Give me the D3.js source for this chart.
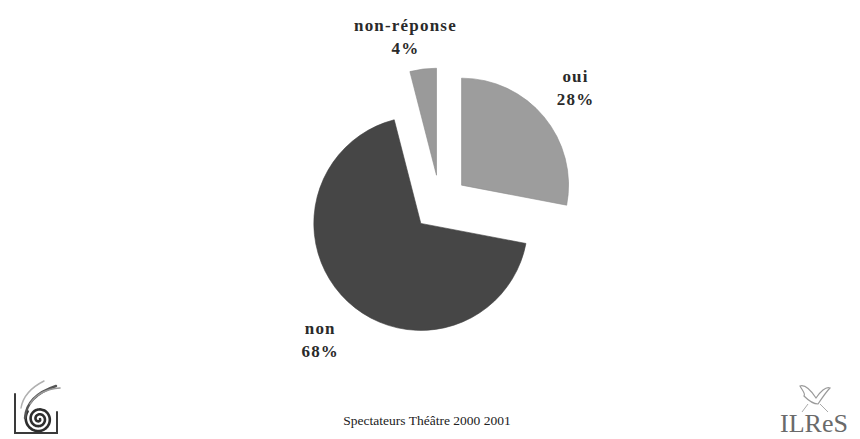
<!DOCTYPE html>
<html>
<head>
<meta charset="utf-8">
<script src="https://cdn.jsdelivr.net/npm/d3@7"></script>
<style>
  html, body { margin: 0; padding: 0; background: #fff; }
  svg { display: block; }
</style>
</head>
<body>
<svg id="chart" width="860" height="439"></svg>
<script>
// Survey answers (percent of spectators)
const categories = ["oui", "non", "non-réponse"];
const values = [28, 68, 4];
const footer = "Spectateurs Théâtre 2000 2001";

const W = 860, H = 439;
const cx = 440, cy = 203;
const radius = 107;
const explode = 28;
const labelRadius = 172;
const labelNudge = { "oui": [3, -11], "non": [-2, 6], "non-réponse": [-13, -1] };
const lineGap = 23;
const serif = "'Liberation Serif', 'Times New Roman', Times, serif";

const colour = d3.scaleOrdinal()
  .domain(categories)
  .range(["#9d9d9d", "#464646", "#9a9a9a"]);

const svg = d3.select("#chart");
svg.append("rect").attr("width", W).attr("height", H).attr("fill", "#fff");

const data = categories.map((c, i) => ({ name: c, value: values[i] }));
const pie = d3.pie().sort(null).value(d => d.value);
const arcs = pie(data);
const arc = d3.arc().innerRadius(0).outerRadius(radius);

const mid = a => (a.startAngle + a.endAngle) / 2;
const dir = a => [Math.sin(mid(a)), -Math.cos(mid(a))];

const g = svg.append("g").attr("transform", `translate(${cx},${cy})`);

// exploded slices
g.selectAll("path.slice")
  .data(arcs)
  .join("path")
  .attr("class", "slice")
  .attr("d", arc)
  .attr("fill", d => colour(d.data.name))
  .attr("stroke", d => d3.color(colour(d.data.name)).darker(0.3))
  .attr("stroke-width", 0.6)
  .attr("transform", d => {
    const [ux, uy] = dir(d);
    return `translate(${ux * explode},${uy * explode})`;
  });

// category + percentage labels
const labels = g.selectAll("g.label")
  .data(arcs)
  .join("g")
  .attr("class", "label")
  .attr("transform", d => {
    const [ux, uy] = dir(d);
    const [nx, ny] = labelNudge[d.data.name];
    return `translate(${ux * labelRadius + nx},${uy * labelRadius + ny})`;
  });

labels.append("text")
  .attr("text-anchor", "middle")
  .attr("font-family", serif)
  .attr("font-weight", "bold")
  .attr("font-size", 17)
  .attr("letter-spacing", 1.2)
  .attr("fill", "#2a2a2a")
  .text(d => d.data.name);

labels.append("text")
  .attr("y", lineGap)
  .attr("text-anchor", "middle")
  .attr("font-family", serif)
  .attr("font-weight", "bold")
  .attr("font-size", 17)
  .attr("letter-spacing", 1.2)
  .attr("fill", "#2a2a2a")
  .text(d => `${d.data.value}%`);

// footer caption
svg.append("text")
  .attr("x", 427)
  .attr("y", 425)
  .attr("text-anchor", "middle")
  .attr("font-family", serif)
  .attr("font-size", 13.5)
  .attr("fill", "#222")
  .text(footer);

// left emblem: frame with spiral and feathers
const emb = svg.append("g").attr("fill", "none").attr("stroke-linecap", "round");
emb.append("path").attr("d", "M15,394 L15,433 L57,433 L57,412")
  .attr("stroke", "#3a3a3a").attr("stroke-width", 2);
const spiral = [];
for (let t = 0; t <= 2.6 * Math.PI * 2; t += 0.1) {
  const r = 1 + t * 0.78;
  spiral.push([39 + r * Math.cos(t), 419 + r * Math.sin(t)]);
}
emb.append("path").attr("d", d3.line().curve(d3.curveBasis)(spiral))
  .attr("stroke", "#2e2e2e").attr("stroke-width", 2.6);
emb.append("path").attr("d", "M25,418 C26,402 38,392 56,386")
  .attr("stroke", "#555").attr("stroke-width", 2.4);
emb.append("path").attr("d", "M30,404 C36,394 46,389 60,388")
  .attr("stroke", "#999").attr("stroke-width", 1.6);
emb.append("path").attr("d", "M21,408 C23,396 30,388 44,381")
  .attr("stroke", "#b0b0b0").attr("stroke-width", 1.4);

// right emblem: bird and lettering
const ilr = svg.append("g");
ilr.append("path")
  .attr("d", "M800,386 C806,384 812,392 816,398 C820,392 826,386 830,388 C826,392 822,398 818,404 C814,404 808,400 804,396 C806,394 802,390 800,386 Z")
  .attr("fill", "none").attr("stroke", "#9a9a9a").attr("stroke-width", 1.2);
ilr.append("path")
  .attr("d", "M808,404 L802,412 M820,404 L828,412")
  .attr("stroke", "#aaa").attr("stroke-width", 1);
ilr.append("text")
  .attr("x", 814)
  .attr("y", 432)
  .attr("text-anchor", "middle")
  .attr("font-family", serif)
  .attr("font-size", 26)
  .attr("fill", "#6a6a6a")
  .text("ILReS");
</script>
</body>
</html>
